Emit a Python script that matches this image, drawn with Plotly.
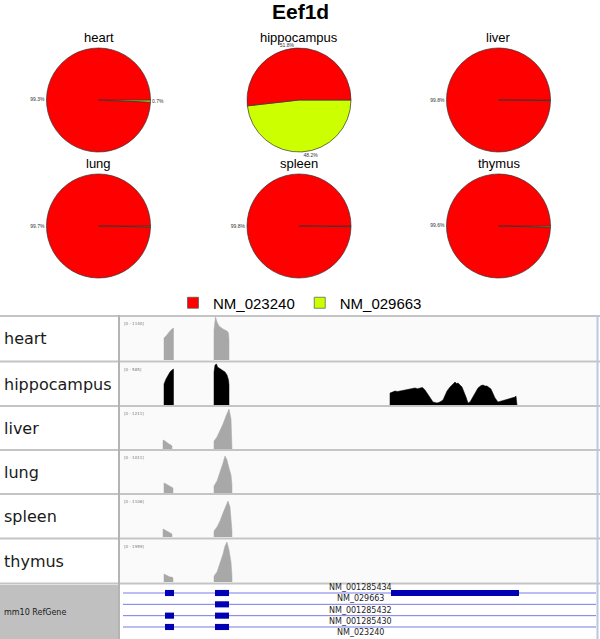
import plotly.graph_objects as go

W, H = 600, 639


def xp(px):
    return px / W


def yp(py):
    return 1 - py / H


# ---------------- data ----------------
title = "Eef1d"
tissues = ["heart", "hippocampus", "liver", "lung", "spleen", "thymus"]
isoforms = ["NM_023240", "NM_029663"]
pct_023240 = [99.3, 51.8, 99.8, 99.7, 99.8, 99.6]
pct_029663 = [0.7, 48.2, 0.2, 0.3, 0.2, 0.4]
show_minor_label = [True, True, False, False, False, False]
iso_colors = ["#ff0000", "#ccff00"]

# coverage tracks (bp position, read depth); None separates exons
track_max = [1140, 585, 1211, 1011, 1106, 1959]
cov_heart_x = [880, 880, 920, 960, 1000, 1040, 1070, 1070, None,
               1880, 1880, 1910, 1940, 1980, 2020, 2060, 2100, 2140, 2170, 2180, 2180]
cov_heart_y = [0, 583, 636, 716, 769, 822, 848, 0, None,
               0, 795, 1140, 1007, 901, 848, 822, 795, 769, 716, 530, 0]
cov_hippo_x = [880, 880, 920, 960, 1000, 1040, 1070, 1070, None,
               1880, 1880, 1900, 1930, 1950, 1980, 2020, 2060, 2100, 2140, 2170, 2180, 2180, None,
               5400, 5400, 5450, 5500, 5550, 5600, 5650, 5700, 5750, 5800, 5850, 5900, 5950,
               6000, 6050, 6100, 6150, 6200, 6260, 6340, 6400, 6460,
               6540, 6600, 6640, 6700, 6730, 6760, 6800, 6840, 6920, 6960, 7000, 7080, 7160, 7220,
               7260, 7300, 7340, 7420, 7500, 7560, 7640, 7760, 7860, 7900, 7920, 7940]
cov_hippo_y = [0, 293, 362, 418, 460, 488, 501, 0, None,
               0, 460, 557, 571, 529, 515, 501, 488, 460, 418, 348, 279, 0, None,
               0, 167, 180, 195, 188, 195, 205, 209, 216, 223, 230, 237, 228,
               237, 245, 209, 160, 111, 42, 28, 42, 70,
               195, 250, 279, 320, 300, 305, 280, 251, 111, 28, 42, 139, 237, 270,
               279, 265, 265, 223, 98, 42, 56, 84, 98, 110, 125, 0]
cov_liver_x = [860, 860, 900, 940, 980, 1020, 1040, 1040, None,
               1880, 1880, 1940, 2000, 2060, 2120, 2160, 2180, 2220, 2240, 2240]
cov_liver_y = [0, 259, 230, 173, 144, 115, 86, 0, None,
               0, 230, 346, 518, 720, 950, 1094, 1152, 864, 288, 0]
cov_lung_x = [880, 880, 920, 960, 1000, 1040, 1060, 1060, None,
              1880, 1880, 1940, 2000, 2060, 2100, 2140, 2180, 2220, 2240, 2240]
cov_lung_y = [0, 241, 217, 193, 169, 145, 121, 0, None,
              0, 169, 289, 482, 723, 892, 795, 603, 434, 193, 0]
cov_spleen_x = [860, 860, 900, 940, 980, 1020, 1040, 1040, None,
                1880, 1880, 1940, 2000, 2060, 2120, 2160, 2200, 2220, 2240, 2240]
cov_spleen_y = [0, 210, 184, 158, 132, 105, 79, 0, None,
                0, 158, 263, 421, 631, 842, 947, 789, 526, 158, 0]
cov_thymus_x = [880, 880, 920, 960, 1000, 1040, 1060, 1060, None,
                1880, 1880, 1940, 2000, 2060, 2100, 2140, 2180, 2220, 2240, 2240]
cov_thymus_y = [0, 373, 326, 280, 233, 233, 186, 0, None,
                0, 280, 466, 839, 1305, 1678, 1864, 1491, 932, 280, 0]
cov_x = [cov_heart_x, cov_hippo_x, cov_liver_x, cov_lung_x, cov_spleen_x, cov_thymus_x]
cov_y = [cov_heart_y, cov_hippo_y, cov_liver_y, cov_lung_y, cov_spleen_y, cov_thymus_y]
cov_colors = ["#a8a8a8", "#000000", "#a8a8a8", "#a8a8a8", "#a8a8a8", "#a8a8a8"]

# RefGene track
region_bp = [0, 9520]
intron_bp = [60, 9520]
transcript_labels = ["NM_001285434", "NM_029663", "NM_001285432", "NM_001285430", "NM_023240"]
label_rows = [-0.5, 0.5, 1.5, 2.5, 3.5]
line_rows = [0, 1, 2, 3]
exon_starts = [[900, 1900, 5420], [1900], [900, 1900], [900, 1900]]
exon_ends = [[1080, 2180, 7980], [2180], [1080, 2180], [1080, 2180]]

# ---------------- layout geometry ----------------
pie_cx = [98.5, 299, 498.5]
pie_cy = [100, 226]
pie_r = 52
title_y = [37.5, 163]
track_top = [317, 363, 407, 451, 495, 540]
track_bot = [360, 405, 449, 493, 537, 582]
gene_top, gene_bot = 585, 639
data_left, data_right = 120, 596

fig = go.Figure()
annotations = []
shapes = []

# pies: NM_029663 slice drawn clockwise from 3 o'clock, NM_023240 fills the rest
for i, t in enumerate(tissues):
    cx = pie_cx[i % 3]
    cy = pie_cy[i // 3]
    texts = [f"{pct_029663[i]}%" if show_minor_label[i] else "", f"{pct_023240[i]}%"]
    fig.add_trace(go.Pie(
        labels=[isoforms[1], isoforms[0]],
        values=[pct_029663[i], pct_023240[i]],
        text=texts,
        textinfo="text",
        textposition="outside",
        textfont=dict(size=5, color="#333333", family="Liberation Sans"),
        marker=dict(colors=[iso_colors[1], iso_colors[0]], line=dict(color="#333333", width=0.7)),
        sort=False,
        direction="clockwise",
        rotation=90,
        domain=dict(x=[xp(cx - pie_r), xp(cx + pie_r)],
                    y=[yp(cy + pie_r), yp(cy - pie_r)]),
        hoverinfo="label+percent",
        showlegend=False,
    ))
    annotations.append(dict(text=t, x=xp(cx), y=yp(title_y[i // 3]), xref="paper", yref="paper",
                            showarrow=False, xanchor="center", yanchor="middle",
                            font=dict(size=13, color="#000000", family="Liberation Sans")))

# legend entries
for iso, col in zip(isoforms, iso_colors):
    fig.add_trace(go.Scatter(x=[None], y=[None], mode="markers", name=iso,
                             marker=dict(symbol="square", size=11, color=col,
                                         line=dict(color="#555555", width=0.7)),
                             xaxis="x", yaxis="y", showlegend=True))

annotations.append(dict(text="<b>" + title + "</b>", x=0.5, y=yp(11), xref="paper", yref="paper",
                        showarrow=False, xanchor="center", yanchor="middle",
                        font=dict(size=21, color="#000000", family="Liberation Sans")))

# backgrounds of the lower panel
for top, bot in zip(track_top, track_bot):
    shapes.append(dict(type="rect", xref="paper", yref="paper",
                       x0=xp(data_left), x1=xp(data_right), y0=yp(bot), y1=yp(top),
                       fillcolor="#fafafa", line=dict(width=0), layer="below"))
shapes.append(dict(type="rect", xref="paper", yref="paper",
                   x0=0, x1=xp(118), y0=yp(gene_bot), y1=yp(gene_top),
                   fillcolor="#c0c0c0", line=dict(width=0), layer="below"))

sep_y = [316, 361.5, 406, 450, 494, 538.5, 583.5]
for sy in sep_y:
    shapes.append(dict(type="line", xref="paper", yref="paper", x0=0, x1=1, y0=yp(sy), y1=yp(sy),
                       line=dict(color="#c4c4c4", width=2), layer="above"))
shapes.append(dict(type="line", xref="paper", yref="paper", x0=xp(119), x1=xp(119),
                   y0=yp(639), y1=yp(315), line=dict(color="#b4b4b4", width=2)))
shapes.append(dict(type="line", xref="paper", yref="paper", x0=xp(597.5), x1=xp(597.5),
                   y0=yp(639), y1=yp(315), line=dict(color="#b8c8e0", width=2)))

# coverage tracks
layout_axes = {}
for i, t in enumerate(tissues):
    ax = "y" if i == 0 else f"y{i + 1}"
    axname = "yaxis" if i == 0 else f"yaxis{i + 1}"
    fig.add_trace(go.Scatter(x=cov_x[i], y=cov_y[i], mode="lines", fill="toself",
                             fillcolor=cov_colors[i], line=dict(width=0.5, color=cov_colors[i]),
                             xaxis="x", yaxis=ax, showlegend=False, hoverinfo="skip"))
    layout_axes[axname] = dict(domain=[yp(track_bot[i]), yp(track_top[i])],
                               range=[0, track_max[i]], visible=False, fixedrange=True,
                               anchor="x")
    annotations.append(dict(text=t, x=xp(2), y=yp((track_top[i] + track_bot[i]) / 2),
                            xref="paper", yref="paper", showarrow=False,
                            xanchor="left", yanchor="middle",
                            font=dict(size=16, color="#1a1a1a", family="DejaVu Sans")))
    annotations.append(dict(text=f"[0 - {track_max[i]}]", x=xp(data_left + 2),
                            y=yp(track_top[i] + 2), xref="paper", yref="paper",
                            showarrow=False, xanchor="left", yanchor="top",
                            font=dict(size=4, color="#777777", family="DejaVu Sans")))

# gene track axis (row units, reversed)
px_row0 = 593
px_per_row = 11.33
layout_axes["yaxis7"] = dict(domain=[yp(gene_bot), yp(gene_top)],
                             range=[(gene_bot - px_row0) / px_per_row, (gene_top - px_row0) / px_per_row],
                             visible=False, fixedrange=True, anchor="x")
for r in line_rows:
    fig.add_trace(go.Scatter(x=intron_bp, y=[r, r], mode="lines",
                             line=dict(color="#7a7ae6", width=1),
                             xaxis="x", yaxis="y7", showlegend=False, hoverinfo="skip"))
    for s, e in zip(exon_starts[r], exon_ends[r]):
        shapes.append(dict(type="rect", xref="x", yref="y7", x0=s, x1=e, y0=r - 0.27, y1=r + 0.27,
                           fillcolor="#0000b4", line=dict(width=0)))
for lbl, lr in zip(transcript_labels, label_rows):
    annotations.append(dict(text=lbl, x=4800, y=lr, xref="x", yref="y7", showarrow=False,
                            xanchor="center", yanchor="middle",
                            font=dict(size=8, color="#222222", family="DejaVu Sans")))
annotations.append(dict(text="mm10 RefGene", x=xp(2), y=yp(612), xref="paper", yref="paper",
                        showarrow=False, xanchor="left", yanchor="middle",
                        font=dict(size=8, color="#1a1a1a", family="DejaVu Sans")))

fig.update_layout(
    width=W, height=H,
    margin=dict(l=0, r=0, t=0, b=0),
    paper_bgcolor="white", plot_bgcolor="rgba(0,0,0,0)",
    xaxis=dict(domain=[xp(data_left), xp(data_right)], range=region_bp, visible=False,
               fixedrange=True, anchor="y"),
    legend=dict(orientation="h", x=0.5, xanchor="center", y=yp(303), yanchor="middle",
                font=dict(size=15, color="#000000", family="Liberation Sans"),
                bgcolor="rgba(0,0,0,0)"),
    annotations=annotations,
    shapes=shapes,
    **layout_axes,
)

fig.write_html("out.html", config={"displayModeBar": False},
               post_script="document.body.style.margin='0px';")
